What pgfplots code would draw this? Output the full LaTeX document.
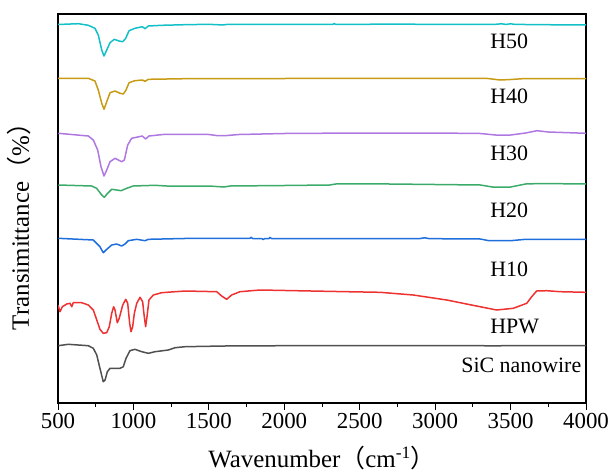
\documentclass[border=0pt]{standalone}
\usepackage{pgfplots}
\pgfplotsset{compat=1.18}
\usepackage{fontspec}
\setmainfont{Liberation Serif}
\newfontfamily\cjk{Noto Sans CJK SC}
\definecolor{cH50}{RGB}{20,192,200}
\definecolor{cH40}{RGB}{200,155,20}
\definecolor{cH30}{RGB}{175,120,225}
\definecolor{cH20}{RGB}{60,170,105}
\definecolor{cH10}{RGB}{30,110,220}
\definecolor{cHPW}{RGB}{238,50,50}
\definecolor{cSiC}{RGB}{80,80,80}
\begin{document}
\begin{tikzpicture}
\begin{axis}[
  width=528bp, height=389bp, scale only axis,
  xmin=500, xmax=4000, ymin=14, ymax=403, y dir=reverse,
  ytick=\empty,
  xtick={500,1000,...,4000}, minor x tick num=1,
  xtick pos=bottom, tick align=outside,
  major tick length=6.5bp, minor tick length=3.5bp,
  tick style={black, line width=1bp},
  axis line style={line width=1.1bp},
  /pgf/number format/assume math mode=true,
  /pgf/number format/set thousands separator={},
  xticklabel style={font=\fontsize{23}{27}\selectfont},
  xlabel={Wavenumber{\cjk （}cm\textsuperscript{-1}{\cjk ）}},
  ylabel={Transimittance{\cjk （}\%{\cjk ）}},
  xlabel style={font=\fontsize{25}{29}\selectfont, at={(axis description cs:0.5,-0.167)}, anchor=base},
  ylabel style={font=\fontsize{25}{29}\selectfont, at={(axis description cs:-0.044,0.469)}, anchor=south},
  every axis plot/.append style={line width=1.5bp, line join=round},
]
% H50
\addplot[cH50] coordinates {(500,24.5)(635,23.7)(701,25.3)(745,28.3)(767,35)(790,50)(805,56)(823,50)(845,42.7)(873,39.3)(904,41)(929,41.7)(949,38.3)(971,30.7)(1010,28.3)(1059,26.7)(1077,28.7)(1099,26)(1187,25.3)(1342,24.7)(1500,24.3)(1594,25)(1620,24.4)(1800,24.5)(2000,24.3)(2323,24.3)(2330,23.6)(2340,24.3)(2800,24.2)(3200,24.5)(3400,24.3)(3440,23.8)(3470,24.4)(3500,23.8)(3530,24.4)(3800,24.8)(4000,25)};
% H40
\addplot[cH40] coordinates {(500,78.3)(701,78.3)(745,81)(767,90)(790,103.3)(805,109.3)(823,101.7)(845,92.7)(878,91)(911,93.3)(933,94)(951,90)(971,82.7)(1010,80.7)(1059,80)(1077,81.3)(1099,79.3)(1342,78.7)(2000,78.5)(3000,78.3)(3350,78.5)(3430,80)(3500,79.5)(3600,78.5)(4000,78.7)};
% H30
\addplot[cH30] coordinates {(502,133.3)(701,136)(734,140)(763,150)(785,166.7)(805,176)(823,170)(845,161.7)(878,158.3)(922,161.7)(940,160)(962,145)(988,138.3)(1059,136)(1081,139)(1103,136)(1209,134.3)(1342,134.3)(1500,134.5)(1550,135.5)(1620,135.5)(1700,134.5)(2000,133.5)(2500,133)(3000,133)(3300,133.5)(3400,135)(3500,135)(3600,133)(3675,130.7)(3750,132)(4000,133.3)};
% H20
\addplot[cH20] coordinates {(502,185)(723,186)(756,188.3)(790,195)(807,197.3)(829,193.3)(856,189.3)(889,190)(918,190.7)(955,188.3)(999,186)(1143,185.3)(1220,186)(1500,186)(1600,187)(1640,186)(2000,185.5)(2300,185)(2350,183.8)(2700,184)(3000,184.5)(3300,185)(3380,187)(3500,187)(3600,184)(3700,183.5)(4000,184)};
% H10
\addplot[cH10] coordinates {(502,238.3)(734,240)(778,246.7)(800,252.7)(823,249.3)(856,245)(889,244)(922,246)(944,244)(966,240.7)(1022,239.3)(1077,240.7)(1099,239.3)(1397,238.3)(1773,238.3)(1780,237.3)(1790,238.5)(1850,238.5)(1860,239.6)(1870,238.5)(1900,238.5)(1905,237.4)(1915,238.5)(2000,238.5)(2900,238.5)(2930,237.8)(2960,238.6)(3000,238.7)(3300,239)(3350,240.5)(3500,240.7)(3600,239.3)(4000,239.3)};
% HPW
\addplot[cHPW] coordinates {(500,305)(513,311.7)(529,306.7)(558,304)(580,303.3)(591,306.7)(601,302.7)(657,302.7)(701,305)(734,310)(757,320)(778,329.3)(800,333.3)(823,332.7)(840,326.7)(856,313.3)(869,306.7)(878,310)(893,322.7)(906,318.3)(929,305)(949,299.3)(962,303.3)(975,323.3)(984,331.7)(995,326.7)(1006,313.3)(1022,303.3)(1044,297.3)(1061,301.7)(1072,316.7)(1081,326.7)(1090,316.7)(1103,300)(1132,295)(1187,292.7)(1276,291.7)(1342,291)(1552,291.7)(1585,296)(1618,299.3)(1651,295)(1706,291.7)(1839,290)(2414,291.7)(2634,292.3)(2855,295)(3077,300)(3297,306.7)(3408,310)(3518,308.3)(3607,303.3)(3640,296.7)(3673,291)(3740,290.7)(3828,291.7)(4000,292.3)};
% SiC
\addplot[cSiC] coordinates {(502,345.7)(568,344.3)(701,345.7)(734,348.3)(757,355)(778,368.3)(800,381.7)(812,380)(827,371.7)(845,368.3)(878,368.3)(911,368.3)(933,366.7)(951,358.3)(977,350.7)(1010,349.3)(1055,351.7)(1099,353.3)(1143,351.7)(1231,350)(1276,347.7)(1342,346.7)(1600,346)(2000,345.7)(2500,345.5)(3000,345.5)(3400,345.8)(3600,345.5)(4000,345.7)};
\begin{scope}[every node/.style={font=\fontsize{22}{26}\selectfont, inner sep=0pt}]
\node[anchor=west] at (axis cs:3364,41.3) {H50};
\node[anchor=west] at (axis cs:3364,96.2) {H40};
\node[anchor=west] at (axis cs:3364,153) {H30};
\node[anchor=west] at (axis cs:3364,210) {H20};
\node[anchor=west] at (axis cs:3364,269) {H10};
\node[anchor=west] at (axis cs:3364,326.7) {HPW};
\node[anchor=east] at (axis cs:3970,365) {SiC nanowire};
\end{scope}
\end{axis}
\pgfresetboundingbox
\useasboundingbox ([xshift=-58bp,yshift=-72bp]current axis.south west) rectangle ([xshift=26bp,yshift=14bp]current axis.north east);
\end{tikzpicture}
\end{document}
